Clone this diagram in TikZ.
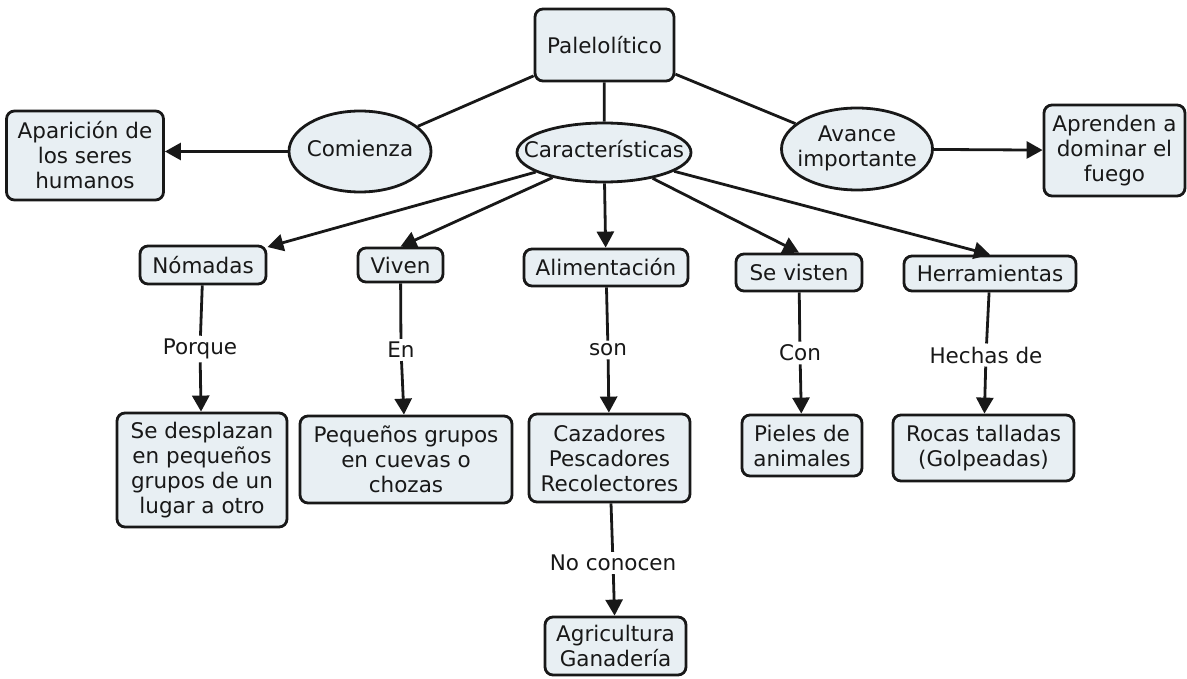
\documentclass[tikz,border=0pt]{standalone}
\usepackage{fontspec}
\setmainfont{DejaVu Sans}
\usetikzlibrary{shapes.geometric,arrows.meta}
\definecolor{boxfill}{RGB}{232,239,243}
\definecolor{ink}{RGB}{24,24,24}
\newcommand{\mapfont}{\fontsize{21.5}{25}\selectfont}
\newcommand{\ellt}[1]{\makebox[0pt]{\begin{tabular}{@{}c@{}}#1\end{tabular}}}
\tikzset{
  concept/.style={draw=ink, line width=2.8pt, fill=boxfill, rounded corners=8pt,
    align=center, inner sep=2pt, font=\mapfont, text=ink},
  oval/.style={draw=ink, line width=2.8pt, fill=boxfill, ellipse, inner sep=0pt,
    font=\mapfont, text=ink},
  lbl/.style={inner sep=3pt, font=\mapfont, text=ink},
  conn/.style={draw=ink, line width=2.8pt},
  arr/.style={conn, -{Triangle[length=16pt,width=17pt]}},
}
\begin{document}
\begin{tikzpicture}[x=1pt,y=-1pt]
\useasboundingbox (0,0) rectangle (1187,679);
% top level
\node[concept, minimum width=139pt, minimum height=72pt] (paleo) at (604.5,45) {Palelolítico};
\node[concept, minimum width=157pt, minimum height=89pt] (apar) at (85,155.5) {Aparición de\\los seres\\humanos};
\node[oval, minimum width=142pt, minimum height=81pt] (comienza) at (360,151.5) {\ellt{Comienza}};
\node[oval, minimum width=174pt, minimum height=59pt] (car) at (604,152.5) {\ellt{Características}};
\node[oval, minimum width=151pt, minimum height=82pt] (avance) at (857,149) {\ellt{Avance\\importante}};
\node[concept, minimum width=141pt, minimum height=91pt] (aprenden) at (1114.5,150.5) {Aprenden a\\dominar el\\fuego};
% second level
\node[concept, minimum width=126pt, minimum height=38pt] (nomadas) at (203,265) {Nómadas};
\node[concept, minimum width=85pt, minimum height=34pt] (viven) at (400.5,265) {Viven};
\node[concept, minimum width=164pt, minimum height=37pt] (alim) at (606,267.5) {Alimentación};
\node[concept, minimum width=126pt, minimum height=37pt] (sevisten) at (799,272.5) {Se visten};
\node[concept, minimum width=172pt, minimum height=35pt] (herr) at (990,273.5) {Herramientas};
% link labels
\node[lbl] (porque) at (200,349) {Porque};
\node[lbl] (en) at (401,350) {En};
\node[lbl] (son) at (608,350) {son};
\node[lbl] (con) at (800,353) {Con};
\node[lbl] (hechas) at (986,355) {Hechas de};
\node[lbl] (noconocen) at (613,563) {No conocen};
% third level
\node[concept, minimum width=170pt, minimum height=114pt] (sedesp) at (202,470) {Se desplazan\\en pequeños\\grupos de un\\lugar a otro};
\node[concept, minimum width=212pt, minimum height=87pt] (pequenos) at (406,459.5) {Pequeños grupos\\en cuevas o\\chozas};
\node[concept, minimum width=161pt, minimum height=88pt] (cazadores) at (609.5,458) {Cazadores\\Pescadores\\Recolectores};
\node[concept, minimum width=120pt, minimum height=61pt] (pieles) at (802,445.5) {Pieles de\\animales};
\node[concept, minimum width=181pt, minimum height=66pt] (rocas) at (983.5,448) {Rocas talladas\\(Golpeadas)};
\node[concept, minimum width=141pt, minimum height=58pt] (agric) at (615.5,646) {Agricultura\\Ganadería};
% connectors
\draw[conn] (paleo) -- (comienza);
\draw[conn] (paleo) -- (avance);
\draw[conn] (paleo) -- (car);
\draw[arr] (comienza.west) -- (comienza.west -| apar.east);
\draw[arr] (avance) -- (aprenden);
\draw[arr] (car.196) -- (nomadas);
\draw[arr] (car.206) -- (viven.north);
\draw[arr] (car) -- (alim);
\draw[arr] (car.332) -- (sevisten.north);
\draw[arr] (car.345) -- (herr.north);
\draw[conn] (nomadas) -- (porque);
\draw[arr] (porque) -- (sedesp);
\draw[conn] (viven) -- (en);
\draw[arr] (en) -- (pequenos);
\draw[conn] (alim) -- (son);
\draw[arr] (son) -- (cazadores);
\draw[conn] (sevisten) -- (con);
\draw[arr] (con) -- (pieles);
\draw[conn] (herr) -- (hechas);
\draw[arr] (hechas) -- (rocas);
\draw[conn] (cazadores) -- (noconocen);
\draw[arr] (noconocen) -- (agric);
\end{tikzpicture}
\end{document}
